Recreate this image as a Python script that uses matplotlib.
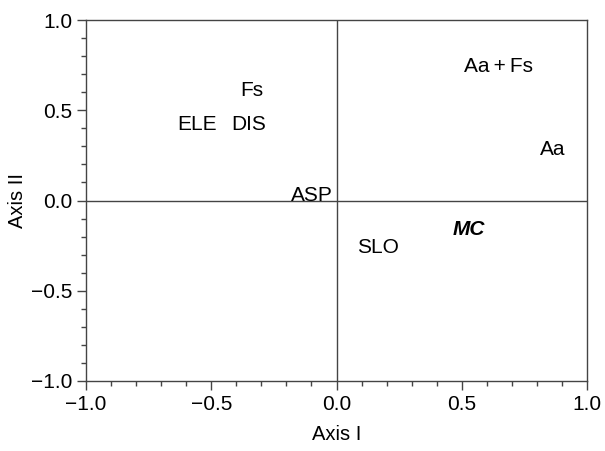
import matplotlib
matplotlib.use("Agg")
import matplotlib.pyplot as plt
from matplotlib.ticker import MultipleLocator

plt.rcParams['font.family'] = ['Liberation Sans', 'DejaVu Sans']

# Ordination scores
labels = ["Fs", "ELE", "DIS", "ASP", "Aa+Fs", "Aa", "MC", "SLO"]
axis1 = [-0.34, -0.555, -0.35, -0.10, 0.645, 0.865, 0.53, 0.165]
axis2 = [0.61, 0.42, 0.42, 0.025, 0.74, 0.28, -0.16, -0.26]
bold_italic = ["MC"]

fig = plt.figure(figsize=(6.05, 4.51), dpi=100)
ax = fig.add_axes([86 / 605, 1 - 381 / 451, 501 / 605, 361 / 451])

line_col = '#444444'
ax.axhline(0, color=line_col, lw=1.0)
ax.axvline(0, color=line_col, lw=1.0)

for lab, x, y in zip(labels, axis1, axis2):
    txt = lab.replace("+", "\u2009+\u2009")
    if lab in bold_italic:
        ax.text(x, y, txt, ha='center', va='center', fontsize=15,
                fontweight='bold', fontstyle='italic')
    else:
        ax.text(x, y, txt, ha='center', va='center', fontsize=15)

ax.set_xlim(-1, 1)
ax.set_ylim(-1, 1)
ax.xaxis.set_major_locator(MultipleLocator(0.5))
ax.xaxis.set_minor_locator(MultipleLocator(0.1))
ax.yaxis.set_major_locator(MultipleLocator(0.5))
ax.yaxis.set_minor_locator(MultipleLocator(0.1))
ax.xaxis.set_major_formatter(plt.FuncFormatter(lambda v, p: f"{v:.1f}".replace("-", "\u2212")))
ax.yaxis.set_major_formatter(plt.FuncFormatter(lambda v, p: f"{v:.1f}".replace("-", "\u2212")))
ax.tick_params(which='both', direction='out', top=False, right=False,
               color=line_col, labelsize=15)
ax.tick_params(which='major', length=6.5, width=1.0, pad=3.5)
ax.tick_params(which='minor', length=3.6, width=1.0)
for s in ax.spines.values():
    s.set_color(line_col)
    s.set_linewidth(1.0)

ax.set_xlabel("Axis I", fontsize=14.5, labelpad=8)
ax.set_ylabel("Axis II", fontsize=14.5, labelpad=3)

fig.savefig("out.png", dpi=100)
